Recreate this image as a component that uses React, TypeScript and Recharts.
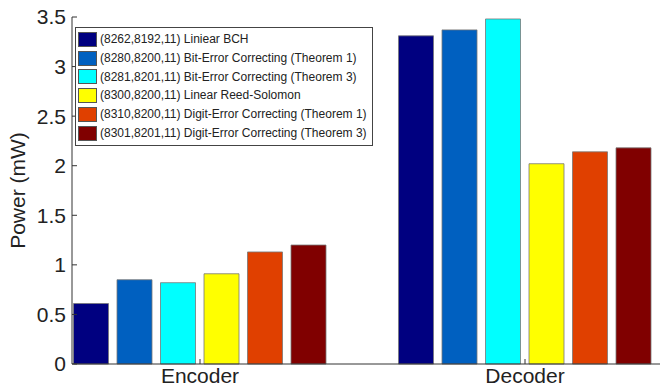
import React from 'react';
import { BarChart, Bar, XAxis, YAxis, Legend } from 'recharts';

const categories = ['Encoder', 'Decoder'];
const seriesNames = [
  '(8262,8192,11) Liniear BCH',
  '(8280,8200,11) Bit-Error Correcting (Theorem 1)',
  '(8281,8201,11) Bit-Error Correcting (Theorem 3)',
  '(8300,8200,11) Linear Reed-Solomon',
  '(8310,8200,11) Digit-Error Correcting (Theorem 1)',
  '(8301,8201,11) Digit-Error Correcting (Theorem 3)',
];
const seriesColors = ['#000080', '#0060C0', '#00FFFF', '#FFFF00', '#E04000', '#800000'];
const linearBch = [0.61, 3.31];
const bitErrT1 = [0.85, 3.37];
const bitErrT3 = [0.82, 3.48];
const reedSolomon = [0.91, 2.02];
const digitErrT1 = [1.13, 2.14];
const digitErrT3 = [1.2, 2.18];
const yTicks = [0, 0.5, 1, 1.5, 2, 2.5, 3, 3.5];

const seriesValues = [linearBch, bitErrT1, bitErrT3, reedSolomon, digitErrT1, digitErrT3];
const keys = seriesValues.map((_, i) => `s${i}`);

const data = categories.map((name, c) => {
  const row: Record<string, string | number> = { name };
  seriesValues.forEach((vals, i) => {
    row[keys[i]] = vals[c];
  });
  return row;
});

const FONT = '"Liberation Sans", Arial, Helvetica, sans-serif';
const AXIS = '#333';

function LegendBox() {
  return (
    <div
      style={{
        border: '1px solid #444',
        background: '#fff',
        padding: '2px 5px 2px 2px',
        fontFamily: FONT,
        fontSize: 12,
        color: '#222',
        lineHeight: '18.8px',
      }}
    >
      {seriesNames.map((n, i) => (
        <div key={n} style={{ display: 'flex', alignItems: 'center', whiteSpace: 'nowrap' }}>
          <span
            style={{
              display: 'inline-block',
              width: 17,
              height: 13,
              background: seriesColors[i],
              border: '1px solid #555',
              marginRight: 3,
            }}
          />
          {n}
        </div>
      ))}
    </div>
  );
}

export default function App() {
  return (
    <div style={{ position: 'absolute', left: 0, top: 0, width: 660, height: 387, overflow: 'hidden', background: '#fff' }}>
      <BarChart
        width={662}
        height={387}
        data={data}
        margin={{ top: 17, right: 0, left: 0, bottom: 0 }}
        barSize={35}
        barGap={8.5}
      >
        <XAxis
          dataKey="name"
          height={23}
          padding={{ left: -34.5, right: -25.5 }}
          axisLine={{ stroke: AXIS }}
          tickLine={{ stroke: AXIS }}
          tickSize={-5}
          tickMargin={9}
          tick={{ fill: '#222', fontSize: 21, fontFamily: FONT }}
        />
        <XAxis
          xAxisId="top"
          orientation="top"
          dataKey="name"
          height={0}
          padding={{ left: -34.5, right: -25.5 }}
          axisLine={{ stroke: AXIS }}
          tickLine={{ stroke: AXIS }}
          tickSize={-5}
          tick={false}
        />
        <YAxis
          width={72}
          domain={[0, 3.5]}
          ticks={yTicks}
          interval={0}
          axisLine={{ stroke: AXIS }}
          tickLine={{ stroke: AXIS }}
          tickSize={-5}
          tickMargin={11}
          tick={{ fill: '#222', fontSize: 21, fontFamily: FONT }}
          label={{
            value: 'Power (mW)',
            angle: -90,
            position: 'insideLeft',
            offset: 0,
            dx: 18,
            style: { fill: '#222', fontSize: 21, fontFamily: FONT, textAnchor: 'middle' },
          }}
        />
        <YAxis
          yAxisId="right"
          orientation="right"
          width={0}
          domain={[0, 3.5]}
          ticks={yTicks}
          interval={0}
          axisLine={{ stroke: AXIS }}
          tickLine={{ stroke: AXIS }}
          tickSize={-5}
          tick={false}
        />
        <Legend
          layout="vertical"
          align="center"
          verticalAlign="middle"
          content={() => <LegendBox />}
          wrapperStyle={{ position: 'absolute', left: 75, top: 27, width: 'auto' }}
        />
        {keys.map((k, i) => (
          <Bar
            key={k}
            dataKey={k}
            name={seriesNames[i]}
            fill={seriesColors[i]}
            stroke="#777"
            strokeWidth={0.8}
            isAnimationActive={false}
          />
        ))}
      </BarChart>
    </div>
  );
}
